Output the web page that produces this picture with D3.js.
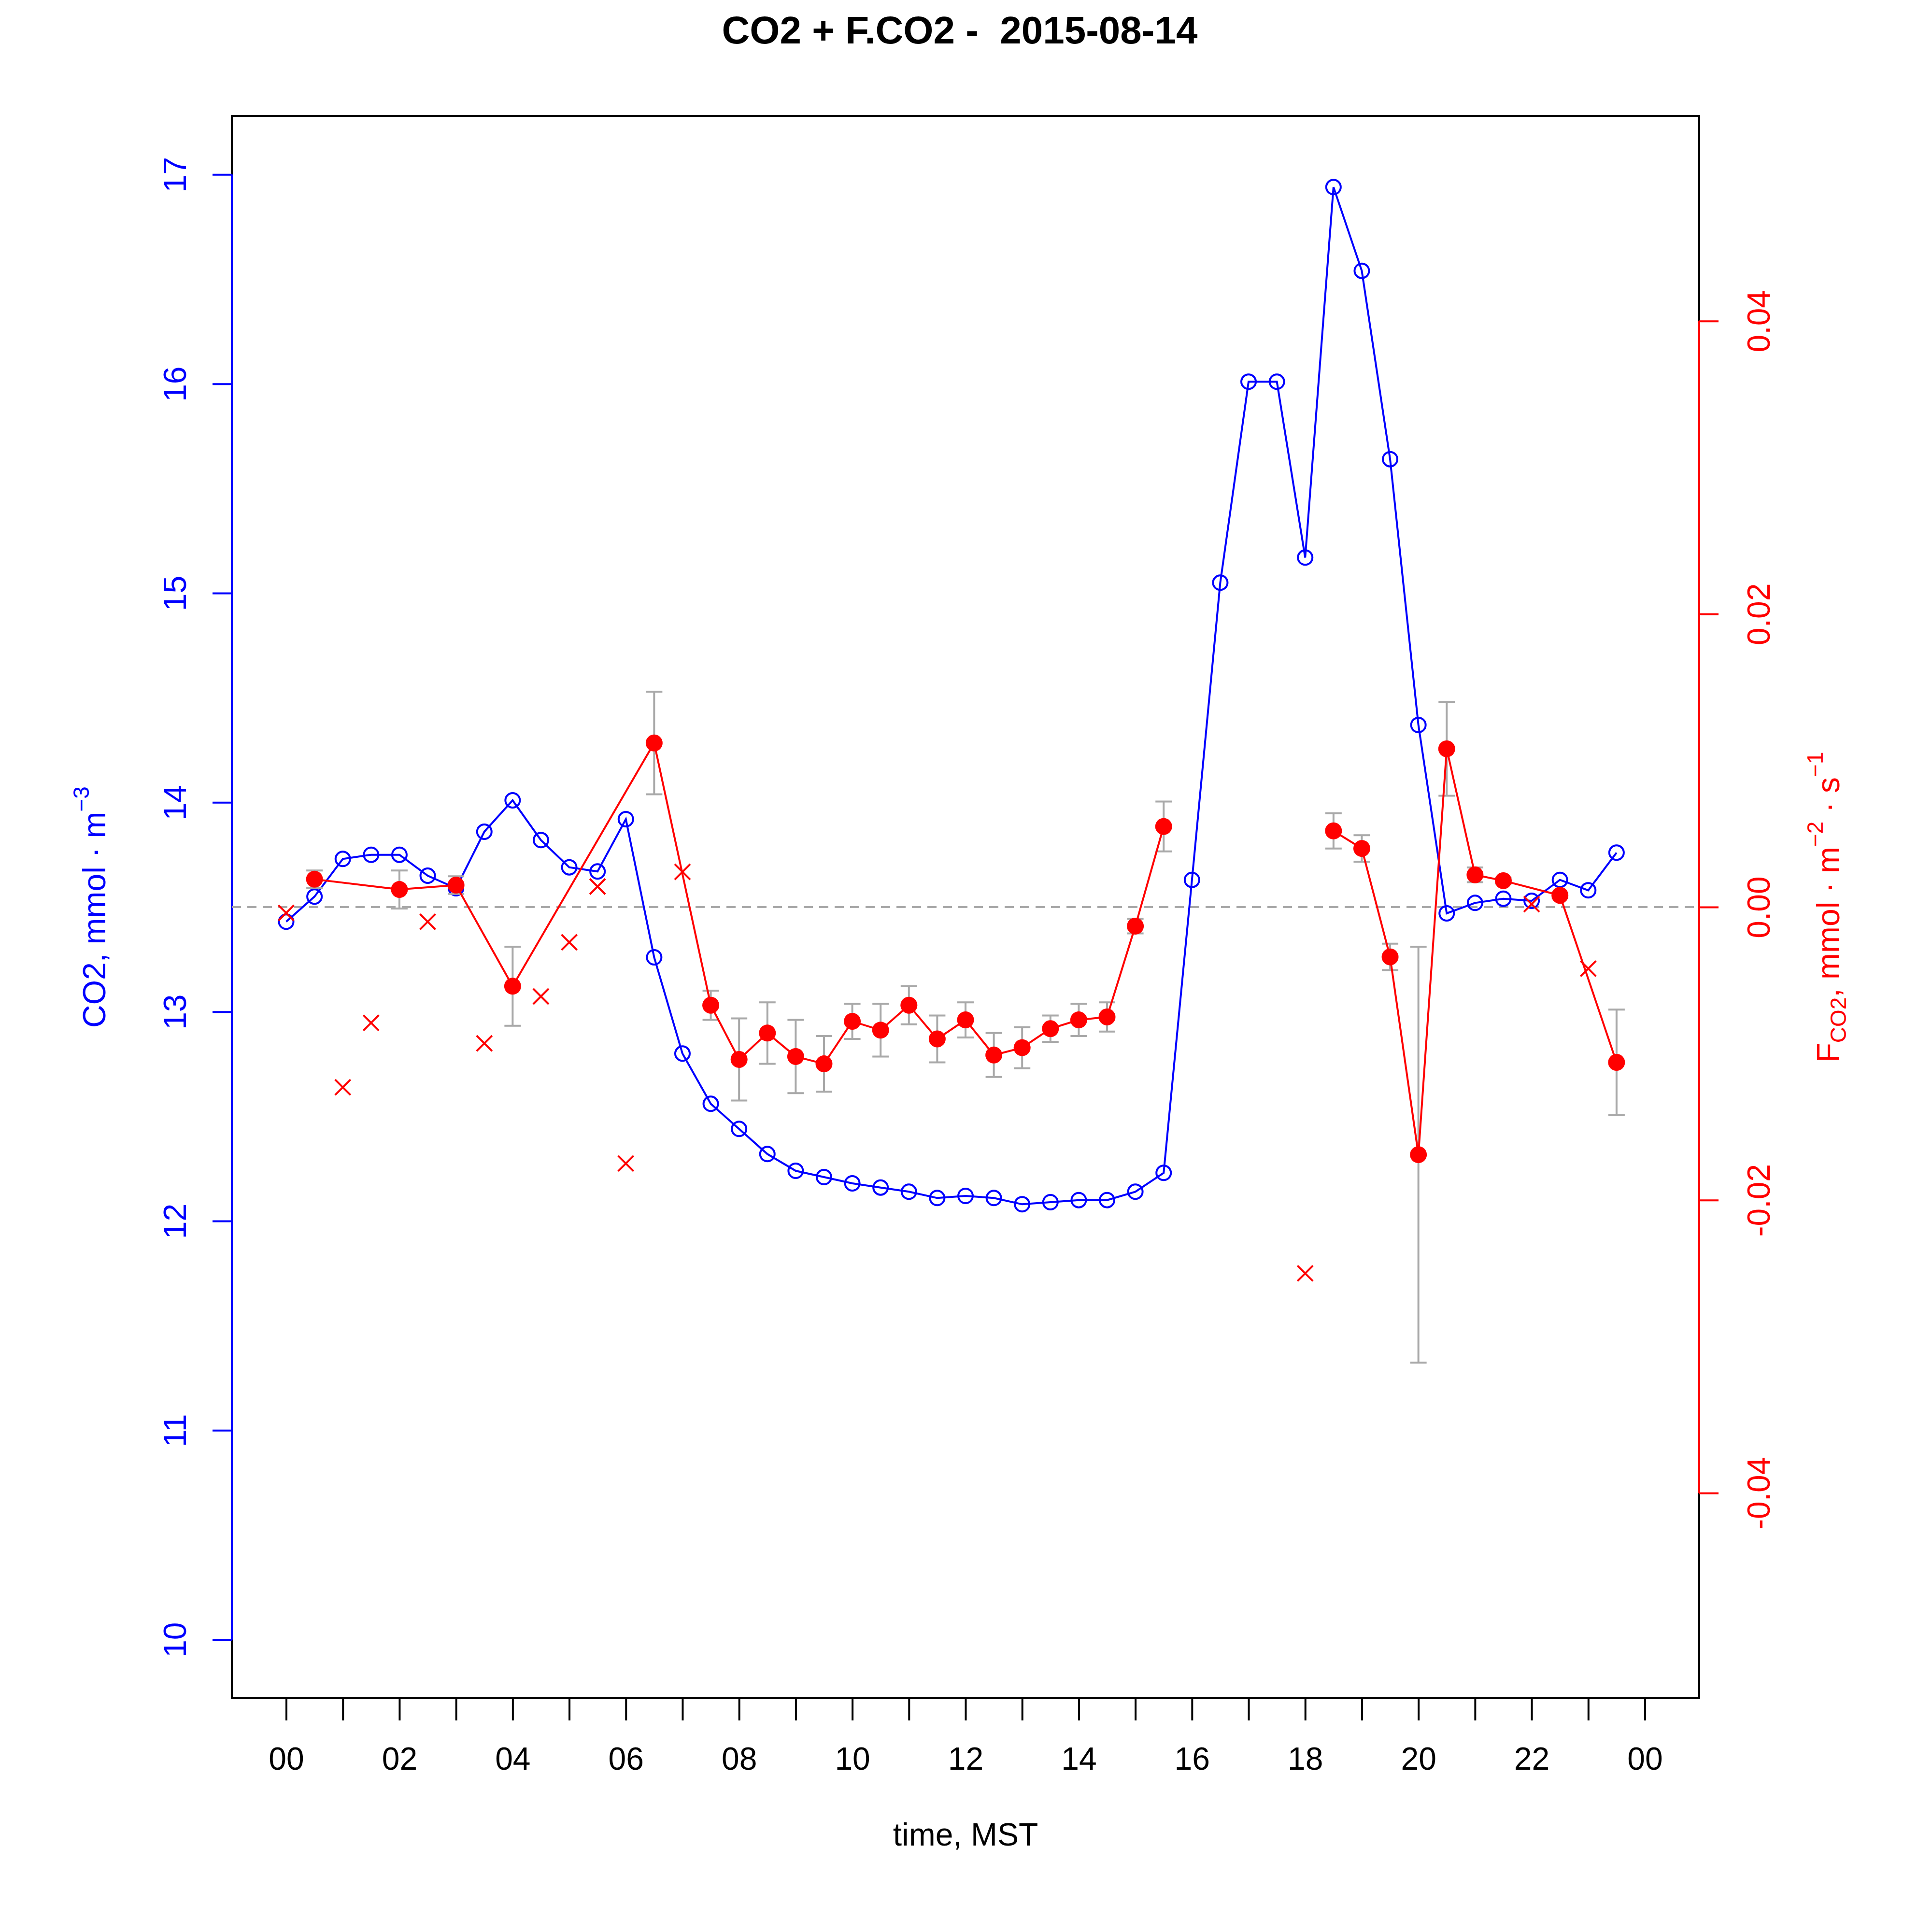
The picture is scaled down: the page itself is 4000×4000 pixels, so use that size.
<!DOCTYPE html>
<html>
<head>
<meta charset="utf-8">
<script src="https://cdn.jsdelivr.net/npm/d3@7.9.0/dist/d3.min.js"></script>
<style>
  body { margin: 0; background: #fff; }
  text { font-family: "Liberation Sans", Arial, Helvetica, sans-serif; }
</style>
</head>
<body>
<svg id="chart" width="4000" height="4000"></svg>
<script>
const hours = [0, 0.5, 1, 1.5, 2, 2.5, 3, 3.5, 4, 4.5, 5, 5.5, 6, 6.5, 7, 7.5,
  8, 8.5, 9, 9.5, 10, 10.5, 11, 11.5, 12, 12.5, 13, 13.5, 14, 14.5, 15, 15.5,
  16, 16.5, 17, 17.5, 18, 18.5, 19, 19.5, 20, 20.5, 21, 21.5, 22, 22.5, 23, 23.5];

const co2 = [13.43, 13.55, 13.73, 13.75, 13.75, 13.65, 13.59, 13.86, 14.01, 13.82, 13.69, 13.67,
  13.92, 13.26, 12.80, 12.56, 12.44, 12.32, 12.24, 12.21, 12.18, 12.16, 12.14, 12.11,
  12.12, 12.11, 12.08, 12.09, 12.10, 12.10, 12.14, 12.23, 13.63, 15.05, 16.01, 16.01,
  15.17, 16.94, 16.54, 15.64, 14.37, 13.47, 13.52, 13.54, 13.53, 13.63, 13.58, 13.76];

// flux, good values (filled dots)
const fluxGood = [null, 0.0019, null, null, 0.0012, null, 0.0015, null, -0.0054, null, null, null,
  null, 0.0112, null, -0.0067, -0.0104, -0.0086, -0.0102, -0.0107, -0.0078, -0.0084, -0.0067, -0.0090,
  -0.0077, -0.0101, -0.0096, -0.0083, -0.0077, -0.0075, -0.0013, 0.0055, null, null, null, null,
  null, 0.0052, 0.0040, -0.0034, -0.0169, 0.0108, 0.0022, 0.0018, null, 0.0008, null, -0.0106];

const fluxErr = [null, 0.0006, null, null, 0.0013, null, 0.0006, null, 0.0027, null, null, null,
  null, 0.0035, null, 0.0010, 0.0028, 0.0021, 0.0025, 0.0019, 0.0012, 0.0018, 0.0013, 0.0016,
  0.0012, 0.0015, 0.0014, 0.0009, 0.0011, 0.0010, 0.0005, 0.0017, null, null, null, null,
  null, 0.0012, 0.0009, 0.0009, 0.0142, 0.0032, 0.0005, 0.0002, null, 0.0002, null, 0.0036];

// flux, flagged values (crosses)
const fluxFlag = [-0.0004, null, -0.0123, -0.0079, null, -0.0010, null, -0.0093, null, -0.0061, -0.0024, 0.0014,
  -0.0175, null, 0.0024, null, null, null, null, null, null, null, null, null,
  null, null, null, null, null, null, null, null, null, null, null, null,
  -0.0250, null, null, null, null, null, null, null, 0.0002, null, -0.0042, null];

const xTicks = [0, 1, 2, 3, 4, 5, 6, 7, 8, 9, 10, 11, 12, 13, 14, 15, 16, 17, 18, 19, 20, 21, 22, 23, 24];
const xTickLabels = ['00', '02', '04', '06', '08', '10', '12', '14', '16', '18', '20', '22', '00'];
const leftTicks = [10, 11, 12, 13, 14, 15, 16, 17];
const rightTicks = [-0.04, -0.02, 0, 0.02, 0.04];
const rightTickLabels = ['-0.04', '-0.02', '0.00', '0.02', '0.04'];

const plotLeft = 480, plotRight = 3518, plotTop = 240, plotBottom = 3516;
const fontSize = 66;

const svg = d3.select('#chart');
svg.append('rect').attr('width', 4000).attr('height', 4000).attr('fill', '#fff');

const x = d3.scaleLinear().domain([-0.96, 24.96]).range([plotLeft, plotRight]);
const yL = d3.scaleLinear().domain([9.72, 17.28]).range([plotBottom, plotTop]);
const yR = d3.scaleLinear().domain([-0.054, 0.054]).range([plotBottom, plotTop]);

svg.append('rect')
  .attr('x', plotLeft).attr('y', plotTop)
  .attr('width', plotRight - plotLeft).attr('height', plotBottom - plotTop)
  .attr('fill', 'none').attr('stroke', 'black').attr('stroke-width', 4);

// x axis
const xAxis = svg.append('g')
  .attr('transform', `translate(0,${plotBottom})`)
  .call(d3.axisBottom(x).tickValues(xTicks).tickSize(46)
    .tickFormat((d, i) => i % 2 === 0 ? xTickLabels[i / 2] : ''));
xAxis.attr('font-size', null).attr('font-family', null);
xAxis.select('.domain').remove();
xAxis.selectAll('line').attr('stroke', 'black').attr('stroke-width', 4);
xAxis.selectAll('text')
  .attr('y', 148).attr('dy', null)
  .attr('font-size', fontSize).attr('fill', 'black');

// left axis (CO2)
const leftAxis = svg.append('g')
  .attr('transform', `translate(${plotLeft},0)`)
  .call(d3.axisLeft(yL).tickValues(leftTicks).tickSize(40));
leftAxis.attr('font-size', null).attr('font-family', null);
leftAxis.select('.domain').remove();
leftAxis.selectAll('line').attr('stroke', 'blue').attr('stroke-width', 4);
leftAxis.selectAll('text')
  .attr('x', 0).attr('dy', null)
  .attr('text-anchor', 'middle')
  .attr('transform', 'translate(-95,0) rotate(-90)')
  .attr('font-size', fontSize).attr('fill', 'blue');
svg.append('line')
  .attr('x1', plotLeft).attr('x2', plotLeft)
  .attr('y1', yL(d3.max(leftTicks))).attr('y2', yL(d3.min(leftTicks)))
  .attr('stroke', 'blue').attr('stroke-width', 4);

// right axis (flux)
const rightAxis = svg.append('g')
  .attr('transform', `translate(${plotRight},0)`)
  .call(d3.axisRight(yR).tickValues(rightTicks).tickSize(40)
    .tickFormat((d, i) => rightTickLabels[i]));
rightAxis.attr('font-size', null).attr('font-family', null);
rightAxis.select('.domain').remove();
rightAxis.selectAll('line').attr('stroke', 'red').attr('stroke-width', 4);
rightAxis.selectAll('text')
  .attr('x', 0).attr('dy', null)
  .attr('text-anchor', 'middle')
  .attr('transform', 'translate(146,0) rotate(-90)')
  .attr('font-size', fontSize).attr('fill', 'red');
svg.append('line')
  .attr('x1', plotRight).attr('x2', plotRight)
  .attr('y1', yR(d3.max(rightTicks))).attr('y2', yR(d3.min(rightTicks)))
  .attr('stroke', 'red').attr('stroke-width', 4);

// zero flux line
svg.append('line')
  .attr('x1', plotLeft).attr('x2', plotRight)
  .attr('y1', yR(0)).attr('y2', yR(0))
  .attr('stroke', '#a9a9a9').attr('stroke-width', 4)
  .attr('stroke-dasharray', '19,13');

// CO2 series
const co2Data = hours.map((h, i) => ({ h, v: co2[i] }));
svg.append('path')
  .datum(co2Data)
  .attr('d', d3.line().x(d => x(d.h)).y(d => yL(d.v)))
  .attr('fill', 'none').attr('stroke', 'blue').attr('stroke-width', 4);
svg.append('g').selectAll('circle')
  .data(co2Data)
  .join('circle')
  .attr('cx', d => x(d.h)).attr('cy', d => yL(d.v)).attr('r', 15)
  .attr('fill', 'none').attr('stroke', 'blue').attr('stroke-width', 4);

// flux error bars
const errData = hours.map((h, i) => ({ h, v: fluxGood[i], e: fluxErr[i] }))
  .filter(d => d.v !== null && d.e !== null);
const errG = svg.append('g').attr('stroke', '#a9a9a9').attr('stroke-width', 4);
errData.forEach((d) => {
  const cx = x(d.h);
  const top = yR(d.v + d.e);
  const bot = yR(d.v - d.e);
  errG.append('line').attr('x1', cx).attr('x2', cx).attr('y1', top).attr('y2', bot);
  errG.append('line').attr('x1', cx - 17).attr('x2', cx + 17).attr('y1', top).attr('y2', top);
  errG.append('line').attr('x1', cx - 17).attr('x2', cx + 17).attr('y1', bot).attr('y2', bot);
});

// flux line: flagged points are dropped, missing ones break the line
const lineData = hours.map((h, i) => ({ h, v: fluxGood[i], flag: fluxFlag[i] }))
  .filter(d => d.flag === null);
svg.append('path')
  .datum(lineData)
  .attr('d', d3.line().defined(d => d.v !== null).x(d => x(d.h)).y(d => yR(d.v)))
  .attr('fill', 'none').attr('stroke', 'red').attr('stroke-width', 4);

svg.append('g').selectAll('circle')
  .data(lineData.filter(d => d.v !== null))
  .join('circle')
  .attr('cx', d => x(d.h)).attr('cy', d => yR(d.v)).attr('r', 17.5)
  .attr('fill', 'red');

const flagData = hours.map((h, i) => ({ h, v: fluxFlag[i] })).filter(d => d.v !== null);
const s = 16;
svg.append('g').selectAll('path')
  .data(flagData)
  .join('path')
  .attr('d', d => {
    const cx = x(d.h), cy = yR(d.v);
    return `M${cx - s},${cy - s}L${cx + s},${cy + s}M${cx - s},${cy + s}L${cx + s},${cy - s}`;
  })
  .attr('stroke', 'red').attr('stroke-width', 4).attr('fill', 'none');

// title and axis labels
const midX = (plotLeft + plotRight) / 2;
const midY = (plotTop + plotBottom) / 2;

svg.append('text')
  .attr('x', midX - 12).attr('y', 90)
  .attr('text-anchor', 'middle')
  .attr('font-size', 80).attr('font-weight', 'bold')
  .style('white-space', 'pre')
  .text('CO2 + F.CO2 -  2015-08-14');

svg.append('text')
  .attr('x', midX).attr('y', 3821)
  .attr('text-anchor', 'middle')
  .attr('font-size', fontSize)
  .text('time, MST');

const leftLabel = svg.append('text')
  .attr('transform', `translate(218,${midY}) rotate(-90)`)
  .attr('text-anchor', 'middle')
  .attr('font-size', fontSize).attr('fill', 'blue');
leftLabel.append('tspan').text('CO2, mmol \u00b7 m');
leftLabel.append('tspan').attr('dy', -34).attr('font-size', 46).text('\u22123');

const rightLabel = svg.append('text')
  .attr('transform', `translate(3808,${midY}) rotate(-90)`)
  .attr('text-anchor', 'middle')
  .attr('font-size', fontSize).attr('fill', 'red');
rightLabel.append('tspan').text('F');
rightLabel.append('tspan').attr('dy', 14).attr('font-size', 46).text('CO2');
rightLabel.append('tspan').attr('dy', -14).text(', mmol \u00b7 m');
rightLabel.append('tspan').attr('dy', -34).attr('font-size', 46).text('\u22122');
rightLabel.append('tspan').attr('dy', 34).text(' \u00b7 s');
rightLabel.append('tspan').attr('dy', -34).attr('font-size', 46).text('\u22121');
</script>
</body>
</html>
